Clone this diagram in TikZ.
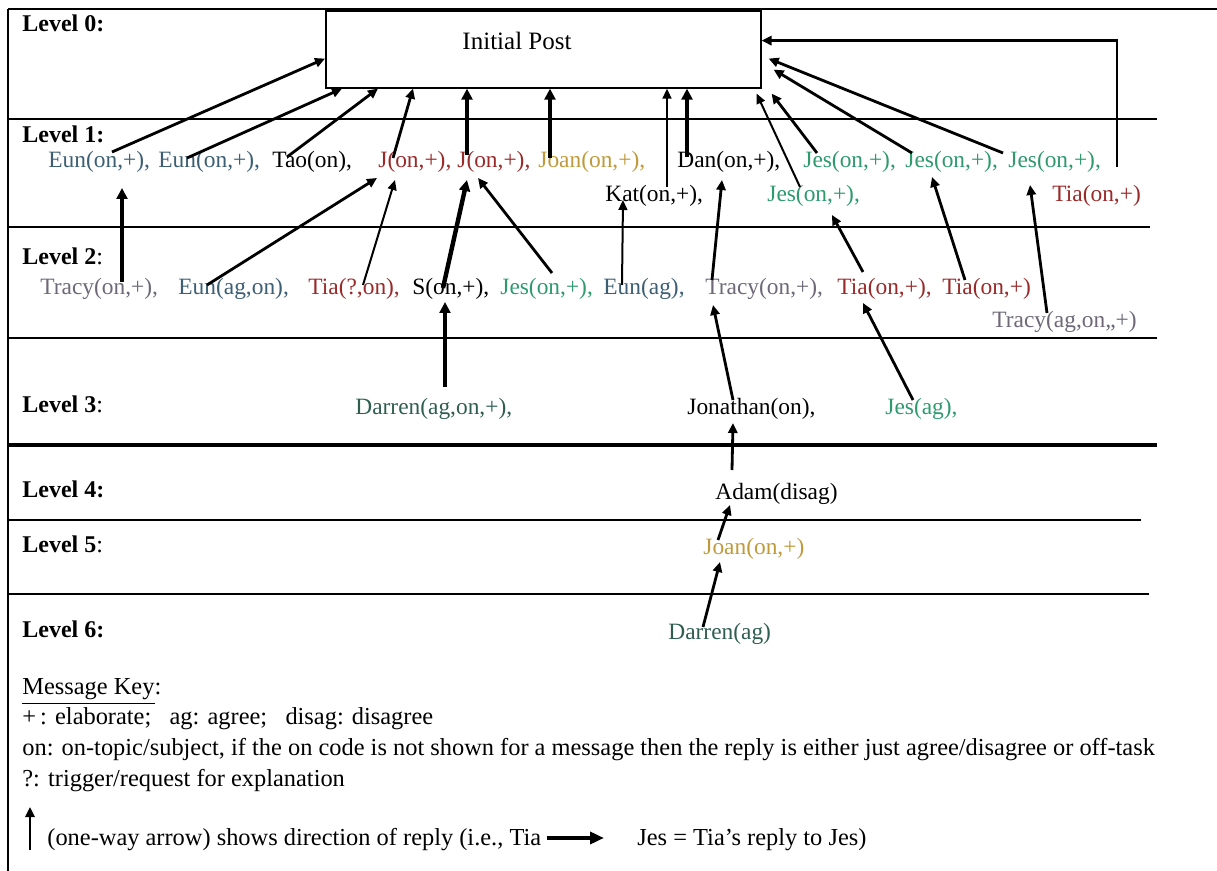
\documentclass[tikz,border=0pt]{standalone}
\usepackage{fontspec}
\setmainfont{Liberation Serif}
\usetikzlibrary{arrows.meta,calc}

\definecolor{euncol}{HTML}{3C5F73}
\definecolor{jescol}{HTML}{2E9A6E}
\definecolor{tiacol}{HTML}{9A2A2A}
\definecolor{joancol}{HTML}{C09A3A}
\definecolor{tracycol}{HTML}{6E6878}
\definecolor{darrencol}{HTML}{2F5E50}

\begin{document}
\begin{tikzpicture}[x=0.5pt,y=-0.5pt,
    msg/.style={anchor=base west, inner sep=0pt, font=\fontsize{11.7}{13}\selectfont},
    lvl/.style={anchor=base west, inner sep=0pt, font=\fontsize{12}{14}\selectfont},
    keytxt/.style={anchor=base west, inner sep=0pt, font=\fontsize{12.2}{14}\selectfont},
    arr/.style={-{Triangle[length=5pt,width=4.6pt]}, line width=1.4pt},
    tarr/.style={-{Triangle[length=5pt,width=4.4pt]}, line width=1pt},
    barr/.style={-{Triangle[length=5.5pt,width=5.4pt]}, line width=2.2pt},
    sep/.style={line width=0.7pt}
]
\useasboundingbox (0,0) rectangle (1217,871);

% frame and level lines
\draw[line width=0.8pt] (8,871) -- (8,9);
\draw[line width=1.4pt] (8,9) -- (1217,9);
\foreach \yy/\xe in {119/1157, 227/1150, 338/1157, 520/1141, 594/1149}
    \draw[sep] (8,\yy) -- (\xe,\yy);
\draw[line width=2pt] (8,445) -- (1157,445);

% level labels
\node[lvl] (lvl0) at (22,32)  {\textbf{Level 0:}};
\node[lvl] (lvl1) at (22,143) {\textbf{Level 1:}};
\node[lvl] (lvl2) at (22,265) {\textbf{Level 2}:};
\node[lvl] (lvl3) at (22,413) {\textbf{Level 3}:};
\node[lvl] (lvl4) at (22,498) {\textbf{Level 4:}};
\node[lvl] (lvl5) at (22,553) {\textbf{Level 5}:};
\node[lvl] (lvl6) at (22,638) {\textbf{Level 6:}};

% initial post
\node[draw, line width=0.8pt, fill=white, anchor=north west, inner sep=0pt,
      minimum width=217.5pt, minimum height=38.5pt] (post) at (325,10) {};
\node[anchor=base, inner sep=0pt, font=\fontsize{12.5}{14}\selectfont] (posttxt) at (517,50) {Initial Post};

% level 1
\node[msg, text=euncol]   (eunA)  at (48,168)   {Eun(on,+),};
\node[msg, text=euncol]   (eunB)  at (158,168)  {Eun(on,+),};
\node[msg]                (tao)   at (272,168)  {Tao(on),};
\node[msg, text=tiacol]   (jA)    at (378,168)  {J(on,+),};
\node[msg, text=tiacol]   (jB)    at (457,168)  {J(on,+),};
\node[msg, text=joancol]  (joanA) at (538,168)  {Joan(on,+),};
\node[msg]                (dan)   at (677,168)  {Dan(on,+),};
\node[msg, text=jescol]   (jesA)  at (803,168)  {Jes(on,+),};
\node[msg, text=jescol]   (jesB)  at (905,168)  {Jes(on,+),};
\node[msg, text=jescol]   (jesC)  at (1008,168) {Jes(on,+),};
\node[msg]                (kat)   at (605,202)  {Kat(on,+),};
\node[msg, text=jescol]   (jesD)  at (767,202)  {Jes(on,+),};
\node[msg, text=tiacol]   (tiaA)  at (1052,202) {Tia(on,+)};

% level 2
\node[msg, text=tracycol] (tracyA) at (40,295)  {Tracy(on,+),};
\node[msg, text=euncol]   (eunC)   at (178,295) {Eun(ag,on),};
\node[msg, text=tiacol]   (tiaB)   at (308,295) {Tia(?,on),};
\node[msg]                (s)      at (412,295) {S(on,+),};
\node[msg, text=jescol]   (jesE)   at (500,295) {Jes(on,+),};
\node[msg, text=euncol]   (eunD)   at (603,295) {Eun(ag),};
\node[msg, text=tracycol] (tracyB) at (705,295) {Tracy(on,+),};
\node[msg, text=tiacol]   (tiaC)   at (837,295) {Tia(on,+),};
\node[msg, text=tiacol]   (tiaD)   at (942,295) {Tia(on,+)};
\node[msg, text=tracycol] (tracyC) at (992,328) {Tracy(ag,on,,+)};

% levels 3 to 6
\node[msg, text=darrencol] (darrenA)  at (355,415) {Darren(ag,on,+),};
\node[msg]                 (jonathan) at (687,415) {Jonathan(on),};
\node[msg, text=jescol]    (jesF)     at (885,415) {Jes(ag),};
\node[msg]                 (adam)     at (715,500) {Adam(disag)};
\node[msg, text=joancol]   (joanB)    at (703,555) {Joan(on,+)};
\node[msg, text=darrencol] (darrenB)  at (668,640) {Darren(ag)};

% replies to the initial post
\draw[arr]  ($(eunA.base west)+(64,-16)$) -- ($(post.south west)+(0,-30)$);
\draw[arr]  ($(eunB.base west)+(29,-10)$) -- ($(post.south west)+(17,0)$);
\draw[arr]  ($(tao.base west)+(15,-11)$)  -- ($(post.south west)+(53,0)$);
\draw[arr]  ($(jA.base west)+(15,-10)$)   -- ($(post.south west)+(88,0)$);
\draw[barr] ($(jB.base west)+(10,-13)$)   -- ($(post.south west)+(142,0)$);
\draw[barr] ($(joanA.base west)+(12,-10)$) -- ($(post.south west)+(225,0)$);
\draw[tarr] ($(kat.base west)+(62,-15)$)  -- ($(post.south west)+(342,0)$);
\draw[barr] ($(dan.base west)+(10,-11)$)  -- ($(post.south west)+(362,0)$);
\draw[tarr] ($(jesD.base west)+(33,-15)$) -- ($(post.south east)+(-5,5)$);
\draw[arr]  ($(jesA.base west)+(14,-15)$) -- ($(post.south east)+(10,5)$);
\draw[arr]  ($(jesB.base west)+(7,-15)$)  -- ($(post.south east)+(12,-19)$);
\draw[arr]  ($(jesC.base west)+(-5,-15)$) -- ($(post.south east)+(7,-30)$);
\draw[arr]  ($(tiaA.base west)+(65,-35)$) |- ($(post.south east)+(0,-48)$);

% level 2 to level 1
\draw[barr] ($(tracyA.base west)+(82,-13)$) -- ($(eunA.base west)+(74,20)$);
\draw[arr]  ($(eunC.base west)+(29,-10)$)   -- ($(jA.base west)+(-1,10)$);
\draw[tarr] ($(tiaB.base west)+(55,-10)$)   -- ($(jA.base west)+(17,12)$);
\draw[barr] ($(s.base west)+(31,-7)$)       -- ($(jB.base west)+(10,12)$);
\draw[arr]  ($(jesE.base west)+(52,-22)$)   -- ($(jB.base west)+(21,10)$);
\draw[tarr] ($(eunD.base west)+(19,-10)$)   -- ($(kat.base west)+(18,-2)$);
\draw[arr]  ($(tracyB.base west)+(7,-15)$)  -- ($(dan.base west)+(45,12)$);
\draw[arr]  ($(tiaC.base west)+(26,-23)$)   -- ($(jesD.base west)+(65,13)$);
\draw[arr]  ($(tiaD.base west)+(23,-15)$)   -- ($(jesB.base west)+(27,9)$);
\draw[arr]  ($(tracyC.base west)+(55,-15)$) -- ($(jesC.base west)+(22,17)$);

% deeper levels
\draw[barr] ($(darrenA.base west)+(90,-28)$) -- ($(s.base west)+(33,7)$);
\draw[arr]  ($(jonathan.base west)+(46,-15)$) -- ($(tracyB.base west)+(8,10)$);
\draw[arr]  ($(jesF.base west)+(28,-15)$)    -- ($(tiaC.base west)+(26,8)$);
\draw[arr]  ($(adam.base west)+(17,-30)$)    -- ($(jonathan.base west)+(46,8)$);
\draw[arr]  ($(joanB.base west)+(15,-15)$)   -- ($(adam.base west)+(15,5)$);
\draw[arr]  ($(darrenB.base west)+(35,-13)$) -- ($(joanB.base west)+(17,7)$);

% message key
\node[keytxt] (keyA) at (22,695) {\underline{Message Key}:};
\node[keytxt] (keyB) at (22,725) {+\,: elaborate;\ \ \ ag: agree;\ \ \ disag: disagree};
\node[keytxt] (keyC) at (22,755) {on: on-topic/subject, if the on code is not shown for a message then the reply is either just agree/disagree or off-task};
\node[keytxt] (keyD) at (22,786) {?: trigger/request for explanation};
\node[keytxt] (keyE) at (47,845) {(one-way arrow) shows direction of reply (i.e., Tia};
\node[keytxt] (keyF) at (637,845) {Jes = Tia’s reply to Jes)};
\draw[arr] ($(keyE.base west)+(-17,5)$) -- ($(keyE.base west)+(-17,-38)$);
\draw[-{Triangle[length=7pt,width=6pt]}, line width=2pt]
    ($(keyE.base east)+(5,-7)$) -- ($(keyF.base west)+(-33,-7)$);
\end{tikzpicture}
\end{document}
